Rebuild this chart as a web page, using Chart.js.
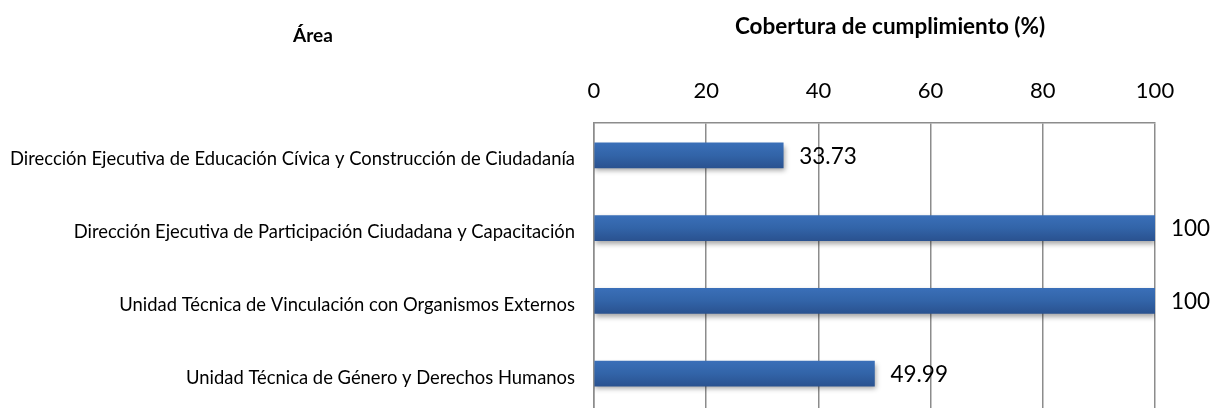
<!DOCTYPE html>
<html>
<head>
<meta charset="utf-8">
<script src="https://cdn.jsdelivr.net/npm/chart.js@4/dist/chart.umd.min.js"></script>
<style>
  html, body { margin: 0; padding: 0; background: #fff; overflow: hidden; }
  canvas { display: block; }
</style>
</head>
<body>
<canvas id="myChart" width="1213" height="420"></canvas>
<script>
const areas = [
  'Dirección Ejecutiva de Educación Cívica y Construcción de Ciudadanía',
  'Dirección Ejecutiva de Participación Ciudadana y Capacitación',
  'Unidad Técnica de Vinculación con Organismos Externos',
  'Unidad Técnica de Género y Derechos Humanos'
];
const cobertura = [33.73, 100, 100, 49.99];
const xTicks = [0, 20, 40, 60, 80, 100];

const FONT = 'Lato, "Open Sans", sans-serif';
const BAR_SHIFT = -4; // las barras van un poco arriba del centro de la categoria

// titulos arriba ("Área" y el del eje)
const titlesPlugin = {
  id: 'titles',
  afterDraw(chart) {
    const ctx = chart.ctx;
    ctx.save();
    ctx.fillStyle = '#000';
    ctx.textAlign = 'center';
    ctx.textBaseline = 'alphabetic';
    ctx.font = 'bold 19px ' + FONT;
    ctx.fillText('Área', 313, 42);
    ctx.font = 'bold 22.5px ' + FONT;
    ctx.fillText('Cobertura de cumplimiento (%)', 890, 34);
    ctx.restore();
  }
};

// etiquetas de valor al final de cada barra
const valueLabels = {
  id: 'valueLabels',
  afterDatasetsDraw(chart) {
    const ctx = chart.ctx;
    const meta = chart.getDatasetMeta(0);
    ctx.save();
    ctx.fillStyle = '#000';
    ctx.font = '22.5px ' + FONT;
    ctx.textAlign = 'left';
    ctx.textBaseline = 'middle';
    meta.data.forEach((bar, i) => {
      ctx.fillText(String(cobertura[i]), bar.x + 16, bar.y + BAR_SHIFT + 1);
    });
    ctx.restore();
  }
};

// sombra de las barras
const barShadow = {
  id: 'barShadow',
  beforeDatasetsDraw(chart) {
    const ctx = chart.ctx;
    ctx.save();
    ctx.translate(0, BAR_SHIFT);
    ctx.shadowColor = 'rgba(0,0,0,0.35)';
    ctx.shadowBlur = 5;
    ctx.shadowOffsetX = 1;
    ctx.shadowOffsetY = 3;
  },
  afterDatasetsDraw(chart) {
    chart.ctx.restore();
  }
};

const barFill = (context) => {
  const chart = context.chart;
  if (!chart.chartArea) return '#30609f';
  const y = chart.scales.y.getPixelForValue(context.dataIndex);
  const g = chart.ctx.createLinearGradient(0, y - 12.5, 0, y + 12.5);
  g.addColorStop(0, '#3a6fb8');
  g.addColorStop(0.5, '#3264a8');
  g.addColorStop(1, '#2a5290');
  return g;
};

const setup = () => {
  const ctxt = document.getElementById('myChart').getContext('2d');

  new Chart(ctxt, {
    type: 'bar',
    data: {
      labels: areas,
      datasets: [{
        data: cobertura,
        backgroundColor: barFill,
        borderWidth: 0,
        barThickness: 25
      }]
    },
    options: {
      indexAxis: 'y',
      responsive: false,
      animation: false,
      layout: { padding: { left: 0, right: 58, top: 0, bottom: 6 } },
      plugins: {
        legend: { display: false },
        tooltip: { enabled: false }
      },
      scales: {
        x: {
          position: 'top',
          min: 0,
          max: 100,
          afterBuildTicks: (scale) => { scale.ticks = xTicks.map(v => ({ value: v })); },
          afterFit: (scale) => { scale.height = 123; },
          ticks: {
            color: '#000',
            font: { family: FONT, size: 22 },
            padding: 19
          },
          grid: { color: '#8c8c8c', lineWidth: 1.5, drawTicks: false },
          border: { display: true, color: '#8c8c8c', width: 1.5 }
        },
        y: {
          afterFit: (scale) => {
            scale.width = 594;
            scale.paddingTop = 0;
            scale.paddingBottom = 0;
          },
          ticks: {
            color: '#000',
            font: { family: FONT, size: 18.4 },
            padding: 19
          },
          grid: { display: false, drawTicks: false },
          border: { display: true, color: '#8c8c8c', width: 1.5 }
        }
      }
    },
    plugins: [barShadow, valueLabels, titlesPlugin]
  });
};

window.addEventListener('DOMContentLoaded', setup);
</script>
</body>
</html>
